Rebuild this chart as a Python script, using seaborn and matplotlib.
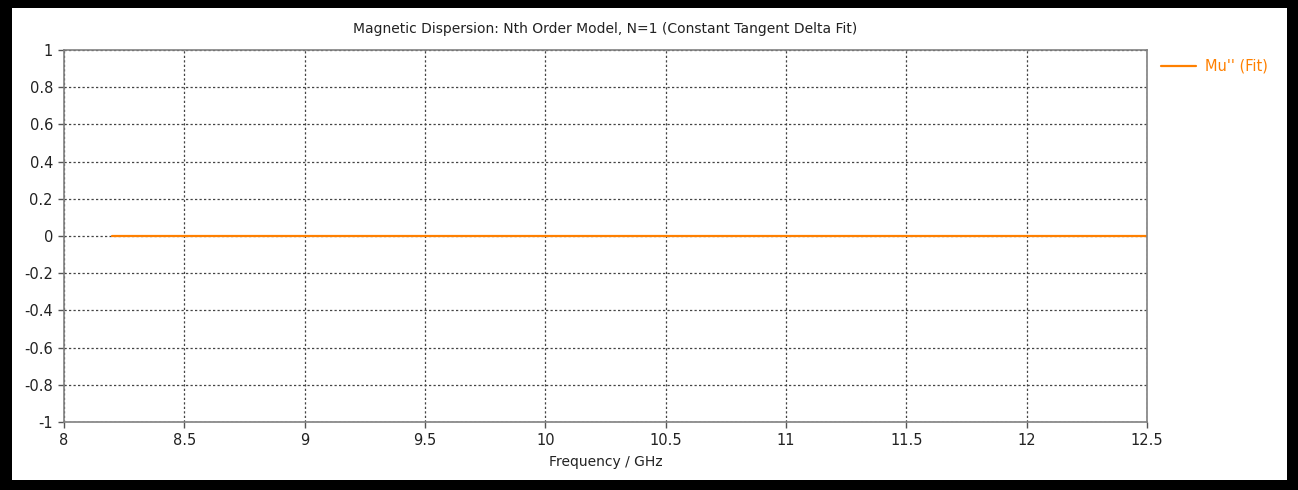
import numpy as np
import pandas as pd
import seaborn as sns
import matplotlib.pyplot as plt
from matplotlib.patches import Rectangle


freq_ghz = [8.2, 8.5, 9.0, 9.5, 10.0, 10.5, 11.0, 11.5, 12.0, 12.5]
mu_fit = [0.0, 0.0, 0.0, 0.0, 0.0, 0.0, 0.0, 0.0, 0.0, 0.0]
x_ticks = [8, 8.5, 9, 9.5, 10, 10.5, 11, 11.5, 12, 12.5]
x_labels = ['8', '8.5', '9', '9.5', '10', '10.5', '11', '11.5', '12', '12.5']
y_ticks = [1, 0.8, 0.6, 0.4, 0.2, 0, -0.2, -0.4, -0.6, -0.8, -1]
y_labels = ['1', '0.8', '0.6', '0.4', '0.2', '0', '-0.2', '-0.4', '-0.6', '-0.8', '-1']


def main():
    sns.set_style('white')
    plt.rcParams['font.family'] = ['DejaVu Sans']
    df = pd.DataFrame({'freq': freq_ghz, 'mu': mu_fit})

    fig = plt.figure(figsize=(12.98, 4.9), dpi=100)
    ax = fig.add_axes([64 / 1298, 1 - 422 / 490, (1147 - 64) / 1298, (422 - 50) / 490])

    orange = '#ff8000'
    sns.lineplot(data=df, x='freq', y='mu', ax=ax, color=orange, lw=1.6, label="Mu'' (Fit)")

    ax.set_xlim(8, 12.5)
    ax.set_ylim(-1, 1)
    ax.set_xticks(x_ticks)
    ax.set_xticklabels(x_labels)
    ax.set_yticks(y_ticks)
    ax.set_yticklabels(y_labels)
    ax.grid(True, color='#444444', ls=(0, (1.8, 1.8)), lw=0.9)
    for s in ax.spines.values():
        s.set_color('#808080')
        s.set_linewidth(1.2)
    ax.tick_params(axis='both', direction='out', length=4, width=1, color='#555555',
                   labelsize=10.5, labelcolor='#222222', pad=4, left=True, bottom=True)
    ax.set_xlabel('Frequency / GHz', fontsize=10, color='#222222', labelpad=5)
    ax.set_ylabel('')
    ax.set_title('Magnetic Dispersion: Nth Order Model, N=1 (Constant Tangent Delta Fit)',
                 fontsize=10, color='#222222', pad=12)

    leg = ax.legend(loc='upper left', bbox_to_anchor=(1.005, 1.0), frameon=False,
                    fontsize=10.5, handlelength=2.4, handletextpad=0.6, borderaxespad=0.2)
    for t in leg.get_texts():
        t.set_color(orange)

    # black frame around the picture
    frame = [
        (0, 0, 12 / 1298, 1),
        (0, 1 - 8 / 490, 1, 8 / 490),
        (1 - 11 / 1298, 0, 11 / 1298, 1),
        (0, 0, 1, 10 / 490),
    ]
    for x0, y0, w, h in frame:
        fig.patches.append(Rectangle((x0, y0), w, h, transform=fig.transFigure,
                                     facecolor='black', edgecolor='none', zorder=10))

    plt.savefig('out.png', dpi=100)


if __name__ == "__main__":
    main()
